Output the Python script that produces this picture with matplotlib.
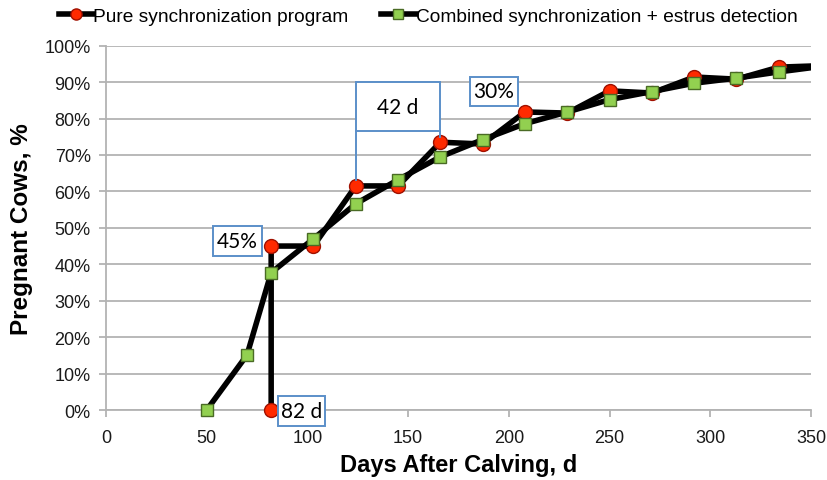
import matplotlib
matplotlib.use("Agg")
import matplotlib.pyplot as plt
from matplotlib.patches import Rectangle
from matplotlib.ticker import FuncFormatter, MultipleLocator

# ---- data ----
pure_days = [82, 82, 103, 124, 145, 166, 187, 208, 229, 250, 271, 292, 313, 334, 355]
pure_pct = [0, 45, 45, 61.5, 61.5, 73.5, 73.0, 81.8, 81.5, 87.6, 87.0, 91.4, 90.8, 94.1, 94.5]
comb_days = [50, 70, 82, 103, 124, 145, 166, 187, 208, 229, 250, 271, 292, 313, 334, 355]
comb_pct = [0, 15.1, 37.7, 47.0, 56.6, 63.2, 69.5, 74.2, 78.6, 81.8, 85.2, 87.4, 89.7, 91.1, 92.8, 94.3]
series_labels = ["Pure synchronization program", "Combined synchronization + estrus detection"]
x_ticks = [0, 50, 100, 150, 200, 250, 300, 350]

plt.rcParams['font.family'] = ['Liberation Sans', 'DejaVu Sans']

fig = plt.figure(figsize=(8.28, 4.81), dpi=100)
ax = fig.add_axes([0.128, 0.1455, 0.8515, 0.7575])

grid_c = '#b3b3b3'
ax.set_xlim(0, 350)
ax.set_ylim(0, 100)
ax.yaxis.set_major_locator(MultipleLocator(10))
ax.set_xticks(x_ticks)
ax.yaxis.set_major_formatter(FuncFormatter(lambda v, p: f"{int(round(v))}%"))
ax.grid(axis='y', color=grid_c, linewidth=1.3)
ax.set_axisbelow(True)
for s in ['top', 'right']:
    ax.spines[s].set_visible(False)
for s in ['left', 'bottom']:
    ax.spines[s].set_color(grid_c)
    ax.spines[s].set_linewidth(1.3)
ax.tick_params(axis='both', colors=grid_c, length=5, width=1.3, labelsize=13,
               labelcolor='#1a1a1a')
ax.tick_params(axis='y', pad=6)
ax.tick_params(axis='x', pad=9)

# clip only horizontally (markers at 0% stay whole)
clip_rect = Rectangle((0, -0.1), 1, 1.2, transform=ax.transAxes, visible=False)
ax.add_patch(clip_rect)

l1, = ax.plot(pure_days, pure_pct, color='black', lw=4, marker='o', ms=10,
              mfc='#ff2a00', mec='#a01000', mew=1.0, label=series_labels[0], zorder=3)
l2, = ax.plot(comb_days, comb_pct, color='black', lw=4, marker='s', ms=9,
              mfc='#92d050', mec='#4a6b25', mew=1.0, label=series_labels[1], zorder=4)
for ln in (l1, l2):
    ln.set_clip_path(clip_rect)

ax.set_xlabel("Days After Calving, d", fontsize=17, fontweight='bold', labelpad=5)
ax.set_ylabel("Pregnant Cows, %", fontsize=17.5, fontweight='bold', labelpad=8)

box_c = '#5b8fc9'
ann_font = ['Lato', 'DejaVu Sans']

def box_label(x0, x1, y0, y1, txt):
    ax.add_patch(Rectangle((x0, y0), x1 - x0, y1 - y0, fill=True, fc='white',
                           ec=box_c, lw=1.4, zorder=6, clip_on=False))
    ax.text((x0 + x1) / 2, (y0 + y1) / 2, txt, ha='center', va='center',
            fontsize=15, family=ann_font, color='black', zorder=7, clip_on=False)

box_label(53, 77.3, 42.3, 50.5, "45%")
box_label(85.3, 108.6, -4.4, 3.8, "82 d")
box_label(180.5, 204.3, 83.5, 91.5, "30%")

# 42 d bracket between the two points
xa, xb = pure_days[3], pure_days[5]
ya, yb = pure_pct[3], pure_pct[5]
ax.add_patch(Rectangle((xa, 76.6), xb - xa, 90.1 - 76.6, fill=True, fc='white',
                       ec=box_c, lw=1.4, zorder=6))
ax.plot([xa, xa], [ya + 1.5, 76.6], color=box_c, lw=1.4, zorder=6)
ax.plot([xb, xb], [yb + 1.5, 76.6], color=box_c, lw=1.4, zorder=6)
ax.text((xa + xb) / 2, 83.3, "42 d", ha='center', va='center', fontsize=15,
        family=ann_font, color='black', zorder=7)

fig.legend(handles=[l1, l2], loc='center', bbox_to_anchor=(0.517, 0.965), ncol=2,
           frameon=False, fontsize=13.8, handlelength=1.8, handletextpad=0.0,
           columnspacing=1.7, markerscale=0.8)

fig.savefig("out.png", dpi=100)
